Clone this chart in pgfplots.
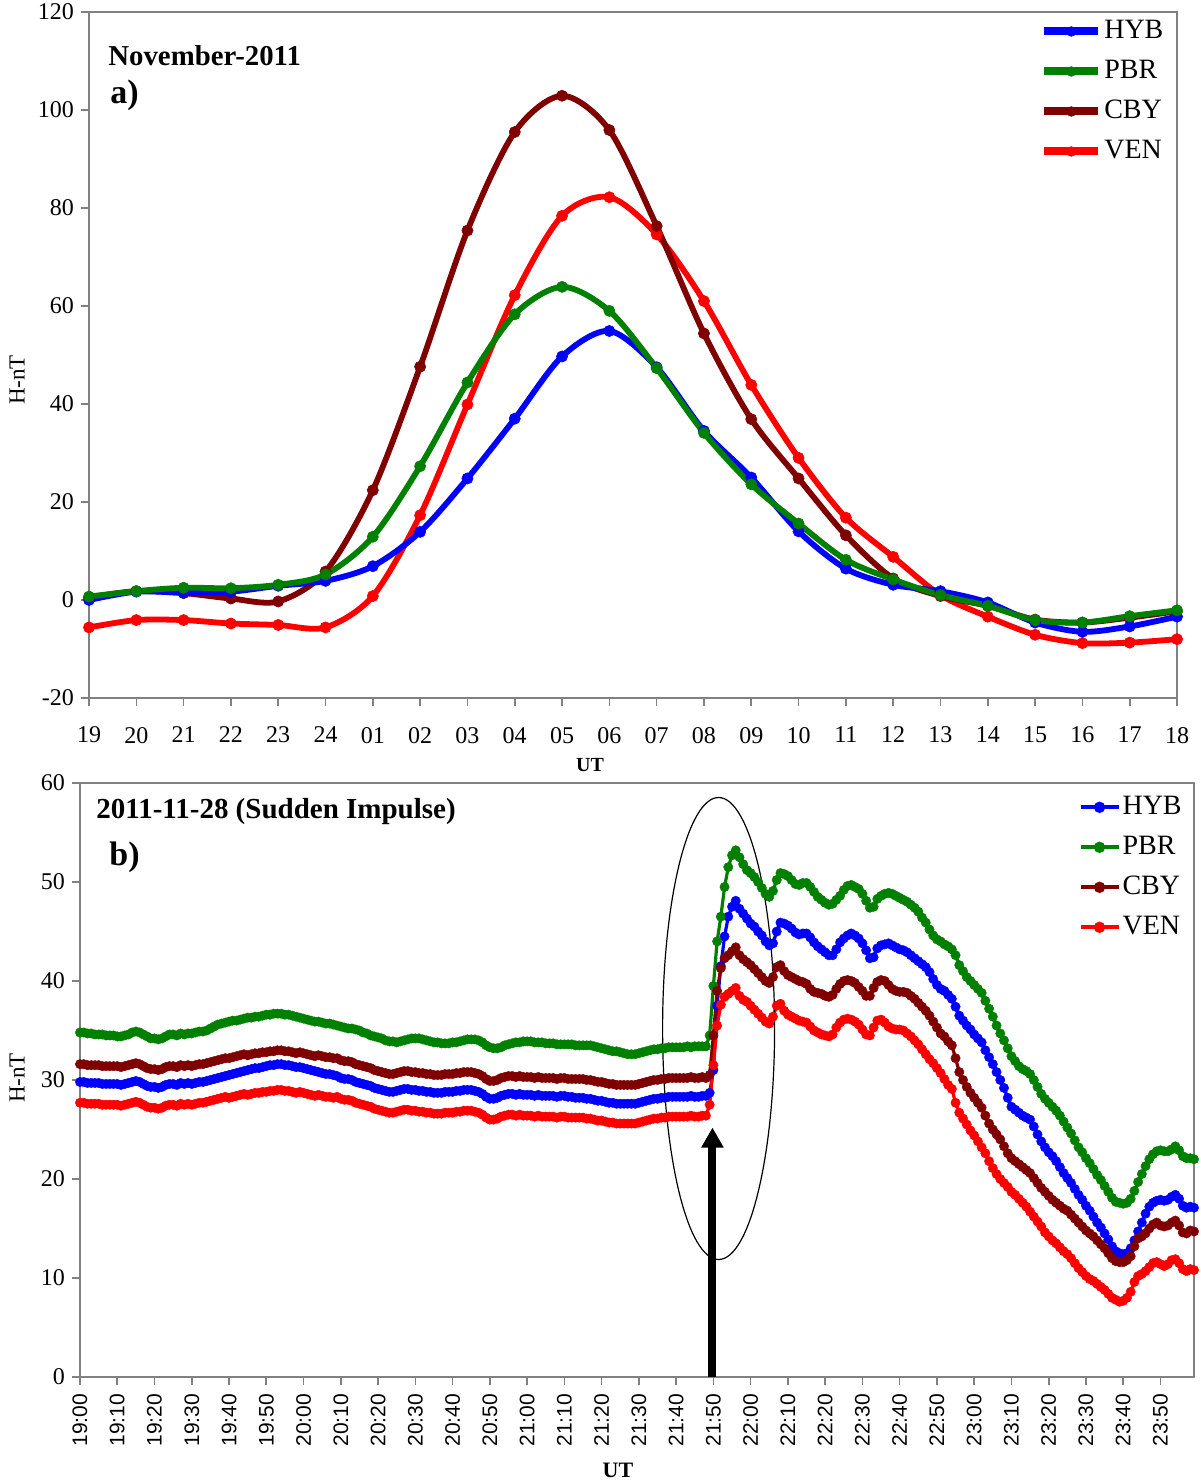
\documentclass[border=0pt]{standalone}
\usepackage{fontspec}
\setmainfont{Liberation Serif}
\setsansfont{Liberation Sans}
\usepackage{pgfplots}
\pgfplotsset{compat=1.18}
\usepackage{pgfplotstable}
\usetikzlibrary{arrows.meta}

\definecolor{cHYB}{RGB}{0,0,255}
\definecolor{cPBR}{RGB}{0,128,0}
\definecolor{cCBY}{RGB}{128,0,0}
\definecolor{cVEN}{RGB}{255,0,0}
\definecolor{axgray}{RGB}{128,128,128}

\pgfplotstableread{
i HYB PBR CBY VEN
0 0.0 0.7 0.5 -5.6
1 1.7 1.8 1.8 -4.1
2 1.5 2.5 1.4 -4.1
3 1.7 2.4 0.3 -4.8
4 2.9 3.1 -0.3 -5.1
5 3.9 5.2 5.8 -5.6
6 6.9 12.9 22.4 0.8
7 13.9 27.3 47.6 17.3
8 24.8 44.4 75.4 39.9
9 37.0 58.3 95.5 62.2
10 49.7 63.9 102.9 78.4
11 54.9 59.0 95.9 82.2
12 47.5 47.3 76.3 74.6
13 34.5 34.1 54.4 61.0
14 25.0 23.6 36.9 43.9
15 14.0 15.6 24.8 29.0
16 6.4 8.2 13.2 16.8
17 3.1 4.2 4.4 8.8
18 1.8 1.0 0.8 1.0
19 -0.5 -1.2 -1.2 -3.4
20 -4.6 -4.1 -4.0 -7.1
21 -6.5 -4.6 -4.6 -8.8
22 -5.4 -3.3 -3.6 -8.7
23 -3.4 -2.1 -2.3 -8.0
}\tablea

\pgfplotstableread{
m HYB PBR CBY VEN
0 29.8 34.8 31.6 27.7
1 29.8 34.8 31.6 27.7
2 29.7 34.7 31.5 27.6
3 29.7 34.7 31.5 27.6
4 29.7 34.6 31.5 27.6
5 29.7 34.6 31.5 27.6
6 29.6 34.6 31.4 27.5
7 29.6 34.5 31.4 27.5
8 29.6 34.5 31.4 27.5
9 29.6 34.5 31.4 27.5
10 29.6 34.4 31.4 27.5
11 29.5 34.4 31.3 27.4
12 29.6 34.5 31.4 27.5
13 29.7 34.6 31.5 27.6
14 29.8 34.8 31.6 27.7
15 29.9 34.9 31.7 27.8
16 29.8 34.8 31.6 27.7
17 29.6 34.6 31.4 27.5
18 29.4 34.4 31.2 27.3
19 29.3 34.2 31.1 27.2
20 29.3 34.2 31.1 27.2
21 29.2 34.1 31.0 27.1
22 29.3 34.2 31.1 27.2
23 29.5 34.4 31.3 27.4
24 29.6 34.6 31.4 27.5
25 29.6 34.6 31.4 27.5
26 29.5 34.5 31.3 27.4
27 29.7 34.7 31.5 27.6
28 29.6 34.6 31.4 27.5
29 29.7 34.7 31.5 27.6
30 29.6 34.7 31.4 27.5
31 29.7 34.8 31.5 27.6
32 29.8 34.9 31.6 27.7
33 29.8 34.9 31.6 27.7
34 29.9 35.0 31.7 27.8
35 30.0 35.2 31.8 27.9
36 30.1 35.4 31.9 28.0
37 30.2 35.6 32.0 28.1
38 30.3 35.7 32.1 28.2
39 30.4 35.8 32.2 28.3
40 30.5 35.9 32.2 28.2
41 30.6 36.0 32.3 28.3
42 30.7 36.0 32.4 28.4
43 30.8 36.1 32.5 28.5
44 30.9 36.2 32.6 28.6
45 31.0 36.3 32.5 28.5
46 31.1 36.3 32.6 28.6
47 31.2 36.4 32.7 28.7
48 31.2 36.4 32.7 28.7
49 31.3 36.5 32.8 28.8
50 31.4 36.6 32.8 28.8
51 31.5 36.6 32.9 28.9
52 31.5 36.7 32.9 28.9
53 31.6 36.7 33.0 29.0
54 31.6 36.7 33.0 29.0
55 31.5 36.6 32.9 28.9
56 31.5 36.6 32.9 28.9
57 31.4 36.5 32.8 28.8
58 31.3 36.4 32.7 28.7
59 31.3 36.3 32.8 28.8
60 31.2 36.2 32.7 28.7
61 31.1 36.1 32.6 28.6
62 31.0 36.0 32.5 28.5
63 30.9 35.9 32.4 28.4
64 30.8 35.9 32.5 28.5
65 30.7 35.8 32.4 28.4
66 30.6 35.7 32.3 28.3
67 30.6 35.7 32.3 28.3
68 30.5 35.6 32.2 28.2
69 30.4 35.5 32.2 28.3
70 30.2 35.4 32.0 28.1
71 30.1 35.3 31.9 28.0
72 30.1 35.2 31.9 28.0
73 30.0 35.2 31.8 27.9
74 29.8 35.1 31.6 27.7
75 29.7 35.0 31.5 27.6
76 29.6 34.8 31.4 27.5
77 29.5 34.7 31.3 27.4
78 29.4 34.5 31.2 27.3
79 29.2 34.4 31.0 27.1
80 29.1 34.3 30.9 27.0
81 29.0 34.2 30.8 26.9
82 28.9 34.0 30.7 26.8
83 28.8 33.9 30.6 26.7
84 28.8 33.9 30.6 26.7
85 28.9 33.8 30.7 26.8
86 29.0 33.9 30.8 26.9
87 29.1 34.0 30.9 27.0
88 29.1 34.1 30.9 27.0
89 29.0 34.2 30.8 26.9
90 29.0 34.2 30.8 26.9
91 28.9 34.2 30.7 26.8
92 28.9 34.1 30.7 26.8
93 28.8 34.0 30.6 26.7
94 28.8 33.9 30.6 26.7
95 28.7 33.8 30.5 26.6
96 28.7 33.8 30.5 26.6
97 28.7 33.7 30.5 26.6
98 28.8 33.7 30.6 26.7
99 28.8 33.7 30.6 26.7
100 28.8 33.8 30.6 26.7
101 28.9 33.8 30.7 26.8
102 28.9 33.9 30.7 26.8
103 29.0 34.0 30.8 26.9
104 29.0 34.1 30.8 26.9
105 29.0 34.1 30.8 26.9
106 28.9 34.1 30.7 26.8
107 28.8 34.0 30.6 26.7
108 28.6 33.8 30.4 26.5
109 28.3 33.5 30.1 26.2
110 28.1 33.3 29.9 26.0
111 28.1 33.2 29.9 26.0
112 28.2 33.2 30.0 26.1
113 28.4 33.3 30.2 26.3
114 28.5 33.5 30.3 26.4
115 28.6 33.6 30.4 26.5
116 28.6 33.7 30.4 26.5
117 28.5 33.8 30.3 26.4
118 28.6 33.8 30.4 26.5
119 28.5 33.9 30.3 26.4
120 28.5 33.9 30.3 26.4
121 28.5 33.9 30.3 26.4
122 28.4 33.8 30.2 26.3
123 28.5 33.8 30.3 26.4
124 28.4 33.8 30.2 26.3
125 28.4 33.7 30.2 26.3
126 28.4 33.7 30.2 26.3
127 28.4 33.7 30.2 26.3
128 28.3 33.6 30.1 26.2
129 28.4 33.6 30.2 26.3
130 28.4 33.6 30.2 26.3
131 28.3 33.6 30.1 26.2
132 28.3 33.6 30.1 26.2
133 28.2 33.5 30.1 26.2
134 28.2 33.5 30.1 26.2
135 28.2 33.5 30.1 26.2
136 28.1 33.5 30.0 26.1
137 28.1 33.5 30.0 26.1
138 28.0 33.4 29.9 26.0
139 27.9 33.3 29.8 25.9
140 27.9 33.2 29.8 25.9
141 27.8 33.1 29.7 25.8
142 27.7 33.0 29.6 25.7
143 27.7 32.9 29.6 25.7
144 27.6 32.9 29.5 25.6
145 27.6 32.8 29.5 25.6
146 27.6 32.7 29.5 25.6
147 27.6 32.6 29.5 25.6
148 27.6 32.6 29.5 25.6
149 27.6 32.6 29.5 25.6
150 27.7 32.7 29.6 25.7
151 27.8 32.8 29.7 25.8
152 27.9 32.9 29.8 25.9
153 28.0 33.0 29.9 26.0
154 28.1 33.1 30.0 26.1
155 28.1 33.1 30.0 26.1
156 28.2 33.2 30.1 26.2
157 28.2 33.2 30.1 26.2
158 28.3 33.3 30.2 26.3
159 28.3 33.3 30.2 26.3
160 28.3 33.3 30.2 26.3
161 28.3 33.3 30.2 26.3
162 28.3 33.3 30.2 26.3
163 28.3 33.4 30.2 26.3
164 28.4 33.3 30.3 26.4
165 28.3 33.4 30.2 26.3
166 28.3 33.4 30.2 26.3
167 28.4 33.4 30.3 26.4
168 28.4 33.4 30.2 26.4
169 28.7 34.5 30.5 27.5
170 31.0 39.5 34.5 31.5
171 37.5 44.0 39.0 35.5
172 41.5 46.5 41.3 37.6
173 44.5 49.5 42.3 38.4
174 46.5 51.5 42.6 38.7
175 47.5 52.7 43.0 39.0
176 48.1 53.2 43.4 39.3
177 47.3 52.5 42.6 38.5
178 46.8 51.8 42.2 38.1
179 46.3 51.2 41.9 37.9
180 45.8 50.9 41.6 37.5
181 45.5 50.5 41.2 37.1
182 45.0 50.0 40.8 36.7
183 44.6 49.4 40.4 36.3
184 44.0 48.8 40.0 35.9
185 43.6 48.5 39.8 35.7
186 43.8 49.1 40.4 36.4
187 45.0 50.2 41.4 37.5
188 45.9 50.9 41.6 37.7
189 45.8 50.8 41.0 37.0
190 45.6 50.6 40.6 36.6
191 45.3 50.2 40.4 36.4
192 44.9 49.8 40.2 36.2
193 44.7 49.7 40.0 36.0
194 44.8 49.9 39.9 35.9
195 44.8 49.9 39.7 35.8
196 44.4 49.5 39.2 35.4
197 43.9 49.0 38.9 35.0
198 43.5 48.5 38.8 34.8
199 43.2 48.2 38.7 34.6
200 42.9 47.9 38.5 34.5
201 42.6 47.7 38.4 34.4
202 42.6 47.8 38.6 34.6
203 43.2 48.2 39.2 35.3
204 43.9 48.6 39.7 35.8
205 44.3 49.2 40.0 36.1
206 44.6 49.6 40.1 36.2
207 44.8 49.7 40.0 36.1
208 44.6 49.5 39.8 35.9
209 44.3 49.3 39.4 35.6
210 43.8 48.8 39.0 35.1
211 43.1 48.1 38.5 34.6
212 42.3 47.4 38.5 34.5
213 42.4 47.5 39.3 35.3
214 43.3 48.3 39.9 36.0
215 43.6 48.6 40.1 36.1
216 43.7 48.8 40.0 35.8
217 43.8 48.9 39.6 35.4
218 43.6 48.8 39.2 35.2
219 43.4 48.6 39.0 35.1
220 43.2 48.4 38.9 35.1
221 43.1 48.2 38.9 35.0
222 42.9 48.0 38.8 34.7
223 42.6 47.7 38.5 34.4
224 42.3 47.4 38.2 34.0
225 42.0 47.0 37.8 33.6
226 41.7 46.4 37.4 33.1
227 41.4 45.9 37.0 32.6
228 40.9 45.2 36.5 32.1
229 40.2 44.6 35.9 31.7
230 39.6 44.2 35.3 31.2
231 39.2 44.0 34.7 30.7
232 39.0 43.7 34.4 30.1
233 38.6 43.5 33.9 29.5
234 38.2 43.2 33.5 29.1
235 37.4 42.6 32.2 27.7
236 36.5 41.6 30.8 26.7
237 36.0 41.0 30.0 26.1
238 35.5 40.4 29.3 25.5
239 35.1 40.0 28.7 24.9
240 34.6 39.6 28.2 24.4
241 34.2 39.2 27.7 23.8
242 33.8 38.8 27.2 23.2
243 33.0 38.0 26.4 22.6
244 32.3 37.2 25.6 21.8
245 31.6 36.4 25.0 21.1
246 30.8 35.5 24.5 20.5
247 30.0 34.7 24.0 20.0
248 29.2 34.0 23.3 19.6
249 28.2 33.2 22.6 19.2
250 27.3 32.4 22.1 18.7
251 27.0 31.9 21.8 18.4
252 26.7 31.4 21.5 18.0
253 26.4 31.1 21.2 17.6
254 26.2 30.9 20.9 17.2
255 26.0 30.6 20.6 16.7
256 25.3 30.0 20.1 16.2
257 24.5 29.3 19.6 15.7
258 23.8 28.6 19.1 15.2
259 23.2 28.1 18.7 14.6
260 22.7 27.7 18.3 14.2
261 22.3 27.3 17.9 13.8
262 21.8 26.9 17.6 13.5
263 21.2 26.4 17.3 13.1
264 20.6 25.8 17.0 12.7
265 20.1 25.2 16.8 12.4
266 19.6 24.6 16.4 12.0
267 19.0 23.9 16.0 11.5
268 18.4 23.2 15.6 11.0
269 17.9 22.7 15.2 10.6
270 17.3 22.1 14.8 10.2
271 16.8 21.6 14.5 9.9
272 16.2 21.0 14.2 9.7
273 15.6 20.4 13.8 9.4
274 15.1 19.9 13.4 9.1
275 14.5 19.3 13.0 8.8
276 13.9 18.7 12.5 8.4
277 13.2 18.1 12.0 8.0
278 12.7 17.7 11.7 7.8
279 12.5 17.6 11.6 7.6
280 12.4 17.5 11.6 7.7
281 12.5 17.6 11.8 8.0
282 13.0 18.0 12.2 8.6
283 13.8 18.8 13.2 9.6
284 14.7 19.7 14.0 10.2
285 15.6 20.5 14.2 10.4
286 16.5 21.3 14.5 10.7
287 17.2 22.0 15.0 11.1
288 17.6 22.5 15.4 11.5
289 17.8 22.8 15.6 11.6
290 17.9 22.9 15.3 11.4
291 17.8 22.8 15.2 11.2
292 17.9 22.8 15.3 11.4
293 18.2 23.0 15.6 11.8
294 18.4 23.3 15.8 11.9
295 18.0 22.9 15.3 11.5
296 17.3 22.3 14.6 10.9
297 17.1 22.1 14.5 10.7
298 17.2 22.1 14.8 10.9
299 17.1 22.0 14.7 10.8
}\tableb

\begin{document}
\begin{tikzpicture}
\path[use as bounding box] (0,0) rectangle (600pt,740.5pt);

% ---------------- Panel a ----------------
\begin{axis}[
  at={(44.5pt,391.5pt)}, anchor=south west,
  scale only axis, width=544pt, height=343pt,
  xmin=0, xmax=23, ymin=-20, ymax=120,
  xtick={0,...,23},
  xticklabels={19,20,21,22,23,24,01,02,03,04,05,06,07,08,09,10,11,12,13,14,15,16,17,18},
  ytick={-20,0,20,40,60,80,100,120},
  tick pos=left, tick align=outside, major tick length=4pt,
  axis line style={axgray, line width=0.8pt},
  tick style={axgray, line width=0.8pt},
  ticklabel style={font=\fontsize{12}{14}\selectfont, text=black},
  xticklabel style={yshift=-7pt},
  /pgf/number format/assume math mode=true,
  clip=false,
  legend style={at={(0.874,0.994)}, anchor=north west, draw=none, fill=none,
    inner sep=0pt, row sep=5pt, font=\fontsize{14}{16}\selectfont,
    nodes={inner sep=1pt, text height=10pt, text depth=3pt}},
  legend cell align=left,
  legend image code/.code={
    \draw[#1, line width=4pt] (0pt,0pt) -- (27pt,0pt);
    \fill[#1] (13.5pt,0pt) circle (2.4pt);
  },
]
\addlegendimage{cHYB}\addlegendentry{HYB}
\addlegendimage{cPBR}\addlegendentry{PBR}
\addlegendimage{cCBY}\addlegendentry{CBY}
\addlegendimage{cVEN}\addlegendentry{VEN}
\addplot[forget plot, cVEN, line width=2.9pt, smooth, mark=*, mark size=2.8pt, mark options={line width=0.3pt}] table[x=i, y=VEN] {\tablea};
\addplot[forget plot, cCBY, line width=2.9pt, smooth, mark=*, mark size=2.8pt, mark options={line width=0.3pt}] table[x=i, y=CBY] {\tablea};
\addplot[forget plot, cHYB, line width=2.9pt, smooth, mark=*, mark size=2.8pt, mark options={line width=0.3pt}] table[x=i, y=HYB] {\tablea};
\addplot[forget plot, cPBR, line width=2.9pt, smooth, mark=*, mark size=2.8pt, mark options={line width=0.3pt}] table[x=i, y=PBR] {\tablea};
\end{axis}

% ---------------- Panel b ----------------
\begin{axis}[
  at={(40pt,52pt)}, anchor=south west,
  scale only axis, width=557pt, height=297pt,
  xmin=0, xmax=299, ymin=0, ymax=60,
  xtick={0,10,...,290},
  xticklabels={19:00,19:10,19:20,19:30,19:40,19:50,20:00,20:10,20:20,20:30,20:40,20:50,21:00,21:10,21:20,21:30,21:40,21:50,22:00,22:10,22:20,22:30,22:40,22:50,23:00,23:10,23:20,23:30,23:40,23:50},
  ytick={0,10,...,60},
  tick pos=left, tick align=outside, major tick length=4pt,
  axis line style={axgray, line width=0.8pt},
  tick style={axgray, line width=0.8pt},
  yticklabel style={font=\fontsize{12}{14}\selectfont, text=black},
  xticklabel style={font=\sffamily\fontsize{10.5}{12}\selectfont, text=black, rotate=90, anchor=east, xshift=-1pt},
  /pgf/number format/assume math mode=true,
  clip=false,
  legend style={at={(0.896,0.985)}, anchor=north west, draw=none, fill=none,
    inner sep=0pt, row sep=5pt, font=\fontsize{14}{16}\selectfont,
    nodes={inner sep=1pt, text height=10pt, text depth=3pt}},
  legend cell align=left,
  legend image code/.code={
    \draw[#1, line width=2pt] (0pt,0pt) -- (19pt,0pt);
    \fill[#1] (9.5pt,0pt) circle (2pt);
  },
]
\addplot[cHYB, line width=1.6pt, mark=*, mark size=2.35pt, mark options={line width=0.2pt}] table[x=m, y=HYB] {\tableb};
\addlegendentry{HYB}
\addplot[cPBR, line width=1.6pt, mark=*, mark size=2.35pt, mark options={line width=0.2pt}] table[x=m, y=PBR] {\tableb};
\addlegendentry{PBR}
\addplot[cCBY, line width=1.6pt, mark=*, mark size=2.35pt, mark options={line width=0.2pt}] table[x=m, y=CBY] {\tableb};
\addlegendentry{CBY}
\addplot[cVEN, line width=1.6pt, mark=*, mark size=2.35pt, mark options={line width=0.2pt}] table[x=m, y=VEN] {\tableb};
\addlegendentry{VEN}
\draw[black, line width=0.6pt] (axis cs:171.4,35.2) ellipse [x radius=28pt, y radius=115.5pt];
\draw[black, line width=4pt, -{Triangle[width=10.5pt,length=10pt]}] (axis cs:169.75,0) -- (axis cs:169.75,25.2);
\end{axis}

% ---------------- Text ----------------
\node[anchor=base west, font=\bfseries\fontsize{14.4}{16}\selectfont, inner sep=0pt] at (54pt,707.7pt) {November-2011};
\node[anchor=base west, font=\bfseries\fontsize{17}{19}\selectfont, inner sep=0pt] at (55pt,688.5pt) {a)};
\node[font=\bfseries\fontsize{10}{12}\selectfont] at (295pt,358pt) {UT};
\node[rotate=90, font=\fontsize{11.5}{13}\selectfont] at (8.5pt,550.5pt) {H-nT};

\node[anchor=base west, font=\bfseries\fontsize{14.5}{16}\selectfont, inner sep=0pt] at (48pt,331.3pt) {2011-11-28 (Sudden Impulse)};
\node[anchor=base west, font=\bfseries\fontsize{17}{19}\selectfont, inner sep=0pt] at (54.5pt,307.7pt) {b)};
\node[font=\bfseries\fontsize{11}{13}\selectfont] at (309pt,5.5pt) {UT};
\node[rotate=90, font=\fontsize{11.5}{13}\selectfont] at (8.5pt,201.5pt) {H-nT};
\end{tikzpicture}
\end{document}
